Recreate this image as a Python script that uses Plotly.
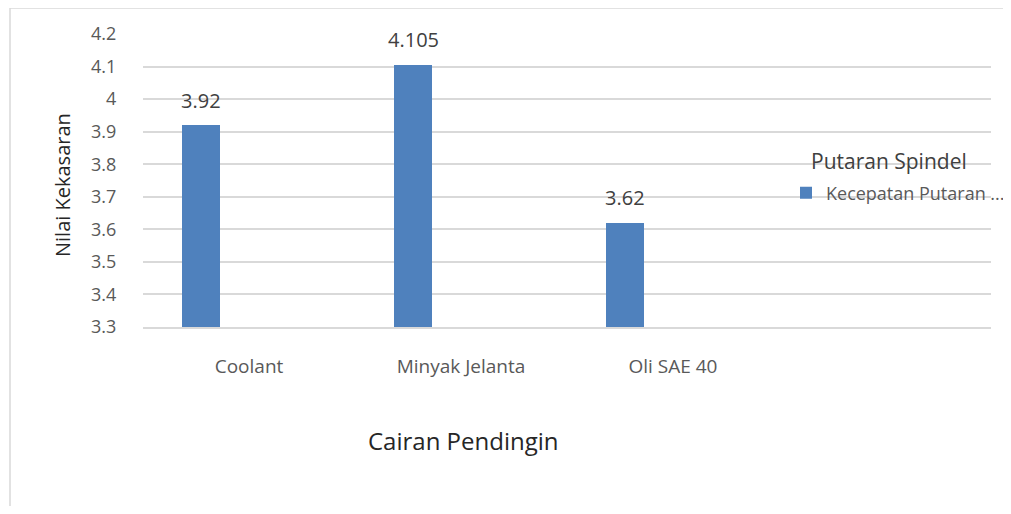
import plotly.graph_objects as go

# ---- data ----
categories = ["Coolant", "Minyak Jelanta", "Oli SAE 40", " "]
values = [3.92, 4.105, 3.62, None]
value_labels = ["3.92", "4.105", "3.62", ""]
series_name = "Kecepatan Putaran ..."
legend_title = "Putaran Spindel"
x_title = "Cairan Pendingin"
y_title = "Nilai Kekasaran"
y_ticks = [3.3, 3.4, 3.5, 3.6, 3.7, 3.8, 3.9, 4.0, 4.1, 4.2]
y_tick_labels = ["3.3", "3.4", "3.5", "3.6", "3.7", "3.8", "3.9", "4", "4.1", "4.2"]

# page body has an 8px margin; work in screen pixels and convert
OFF = 8
W, H = 1011 - OFF, 514 - 2 * OFF
PL, PR, PT, PB = 143, 991, 34, 327          # plot area in screen px
L, T = PL - OFF, PT - OFF
R, B = W - (PR - OFF), H - (PB - OFF)
plot_w = PR - PL
plot_h = PB - PT

def px(x):
    return (x - PL) / plot_w

def py(y):
    return (PB - y) / plot_h

FONT = "Open Sans"
BAR = "#4f81bd"
GRID = "#d9d9d9"
TXT = "#595959"

fig = go.Figure()
fig.add_trace(go.Bar(
    x=categories,
    y=values,
    marker=dict(color=BAR, line=dict(width=0)),
    offset=-0.316,
    width=0.18,
    name=series_name,
    showlegend=True,
))

# data labels
for c, v, lab in zip(categories, values, value_labels):
    if v is None:
        continue
    fig.add_annotation(x=c, y=v, text=lab, showarrow=False, xshift=-48, yshift=25,
                       font=dict(family=FONT, size=20, color="#404040"))

# axis titles
fig.add_annotation(xref="paper", yref="paper", x=px(463), y=py(440),
                   xanchor="center", yanchor="middle",
                   text=x_title, showarrow=False,
                   font=dict(family=FONT, size=24, color="#262626"))
fig.add_annotation(xref="paper", yref="paper", x=px(62), y=py(185),
                   xanchor="center", yanchor="middle",
                   text=y_title, showarrow=False, textangle=-90,
                   font=dict(family=FONT, size=20, color="#262626"))

# legend title
fig.add_annotation(xref="paper", yref="paper", x=px(889), y=py(161),
                   xanchor="center", yanchor="middle",
                   text=legend_title, showarrow=False,
                   font=dict(family=FONT, size=21, color="#404040"))

# chart-area border (top and left edges visible)
fig.add_shape(type="line", xref="paper", yref="paper",
              x0=px(10), x1=px(1020), y0=py(8), y1=py(8),
              line=dict(color=GRID, width=1.5))
fig.add_shape(type="line", xref="paper", yref="paper",
              x0=px(10), x1=px(10), y0=py(8), y1=py(530),
              line=dict(color=GRID, width=1.5))

fig.update_layout(
    width=W, height=H,
    margin=dict(l=L, r=R, t=T, b=B, pad=0, autoexpand=False),
    paper_bgcolor="white", plot_bgcolor="white",
    font=dict(family=FONT, color=TXT),
    showlegend=True,
    legend=dict(
        x=px(786), y=py(193),
        xanchor="left", yanchor="middle",
        bgcolor="rgba(0,0,0,0)",
        font=dict(family=FONT, size=18, color=TXT),
        itemclick=False,
    ),
    xaxis=dict(
        type="category",
        categoryorder="array", categoryarray=categories,
        range=[-0.5, len(categories) - 0.5],
        tickvals=categories[:3], ticktext=categories[:3],
        showgrid=False, zeroline=False,
        showline=True, linecolor=GRID, linewidth=1.5,
        ticks="outside", ticklen=21, tickcolor="rgba(0,0,0,0)",
        tickfont=dict(family=FONT, size=19, color=TXT),
    ),
    yaxis=dict(
        range=[3.3, 4.2],
        tickvals=y_ticks, ticktext=y_tick_labels,
        showgrid=True, gridcolor=GRID, gridwidth=1.5,
        zeroline=False, showline=False,
        ticks="outside", ticklen=22, tickcolor="rgba(0,0,0,0)",
        tickfont=dict(family=FONT, size=18, color=TXT),
    ),
    bargap=0,
)

fig.write_html("out.html")
